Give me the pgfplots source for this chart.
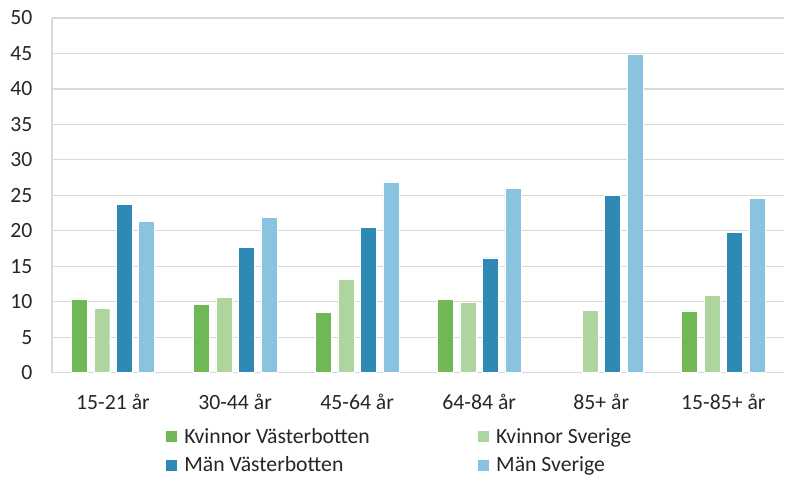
\documentclass[border=0pt]{standalone}
\usepackage{pgfplots}
\pgfplotsset{compat=1.18}
\usepackage{fontspec}
\setmainfont{Carlito}
\definecolor{kv}{HTML}{70B855}
\definecolor{ks}{HTML}{ADD59D}
\definecolor{mv}{HTML}{2E89B5}
\definecolor{ms}{HTML}{8AC3E0}
\definecolor{gridc}{HTML}{D9D9D9}
\begin{document}
\begin{tikzpicture}
\begin{axis}[
  scale only axis,
  width=733bp, height=355bp,
  ybar=6.5bp, bar width=16bp,
  xmin=-0.5, xmax=5.5,
  ymin=0, ymax=50,
  ytick={0,5,...,50},
  xtick={0,1,2,3,4,5},
  xticklabels={15-21 år,30-44 år,45-64 år,64-84 år,85+ år,15-85+ år},
  major tick length=0pt,
  ymajorgrids, grid style={gridc, line width=1.2bp},
  axis x line*=bottom, axis y line*=left,
  x axis line style={gridc, line width=1.2bp, -},
  y axis line style={gridc, line width=1.2bp, -},
  /pgf/number format/assume math mode=true,
  tick label style={font=\fontsize{21.8}{26}\selectfont, text=black!85},
  yticklabel style={xshift=-16bp},
  xticklabel style={yshift=-18bp},
  legend style={draw=none, font=\fontsize{21.8}{26}\selectfont, text=black!85,
    at={(0.5,-0.145)}, anchor=north, xshift=-19bp, legend columns=2,
    /tikz/every odd column/.append style={column sep=5bp},
    /tikz/every even column/.append style={column sep=105bp},
    row sep=8bp},
  legend cell align=left,
  legend image code/.code={\fill[#1] (0bp,-6bp) rectangle (12bp,6bp);},
  every axis plot/.append style={draw=white, line width=0.5bp},
]
\addplot[fill=kv] coordinates {(0,10.4) (1,9.6) (2,8.5) (3,10.3) (5,8.7)};
\addplot[fill=ks] coordinates {(0,9.1) (1,10.6) (2,13.2) (3,10.0) (4,8.8) (5,10.9)};
\addplot[fill=mv] coordinates {(0,23.7) (1,17.7) (2,20.5) (3,16.2) (4,25.0) (5,19.8)};
\addplot[fill=ms] coordinates {(0,21.3) (1,21.9) (2,26.9) (3,26.0) (4,44.9) (5,24.6)};
\legend{Kvinnor Västerbotten, Kvinnor Sverige, Män Västerbotten, Män Sverige}
\end{axis}
\path (current axis.south west) ++(-52bp,0bp);
\path (current axis.north west) ++(0bp,18bp);
\end{tikzpicture}
\end{document}
